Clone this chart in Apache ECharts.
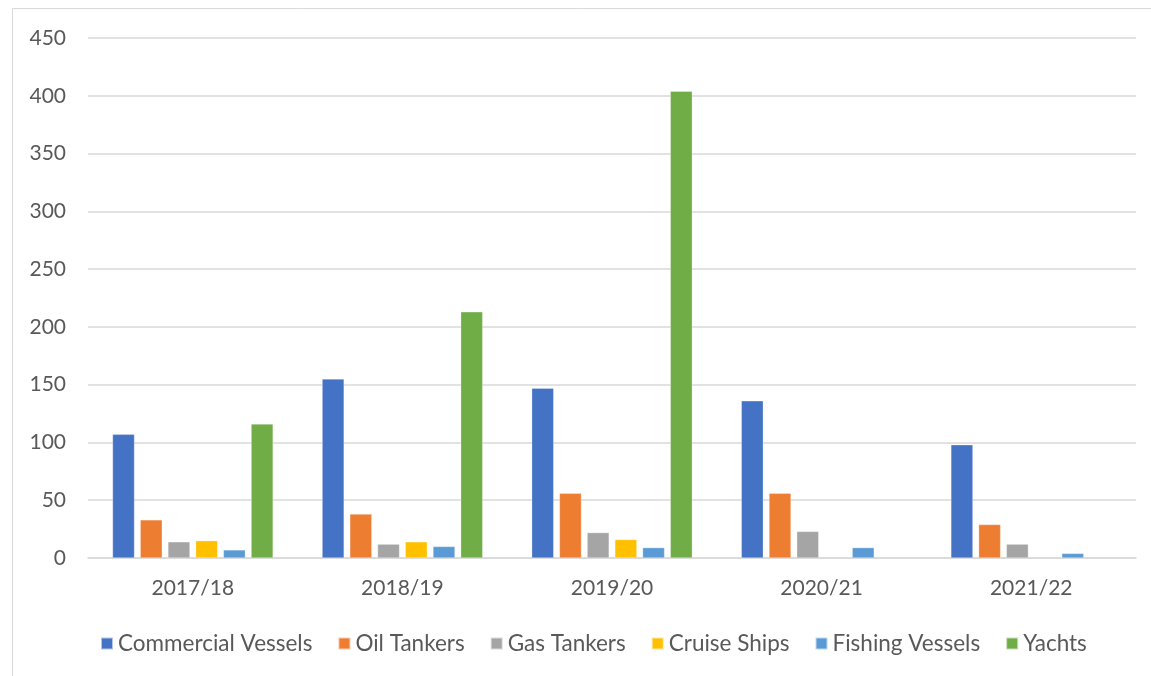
<!DOCTYPE html>
<html>
<head>
<meta charset="utf-8">
<script src="https://cdn.jsdelivr.net/npm/echarts@6/dist/echarts.min.js"></script>
<style>
html,body{margin:0;padding:0;background:#fff;}
#chart{width:1151px;height:676px;}
</style>
</head>
<body>
<div id="chart"></div>
<script>
const categories = ['2017/18', '2018/19', '2019/20', '2020/21', '2021/22'];
const commercialVessels = [107, 155, 147, 136, 98];
const oilTankers = [33, 38, 56, 56, 29];
const gasTankers = [14, 12, 22, 23, 12];
const cruiseShips = [15, 14, 16, null, null];
const fishingVessels = [7, 10, 9, 9, 4];
const yachts = [116, 213, 404, null, null];
const seriesNames = ['Commercial Vessels', 'Oil Tankers', 'Gas Tankers', 'Cruise Ships', 'Fishing Vessels', 'Yachts'];
const seriesData = [commercialVessels, oilTankers, gasTankers, cruiseShips, fishingVessels, yachts];
const colors = ['#4472C4', '#ED7D31', '#A5A5A5', '#FFC000', '#5B9BD5', '#70AD47'];

const FONT = 'Lato, "Noto Sans", sans-serif';
const chart = echarts.init(document.getElementById('chart'), null, {renderer: 'canvas'});
chart.setOption({
  animation: false,
  color: colors,
  textStyle: {fontFamily: FONT},
  graphic: [{
    type: 'rect',
    shape: {x: 12.5, y: 8.5, width: 1300, height: 800},
    style: {fill: 'none', stroke: '#D9D9D9', lineWidth: 1},
    silent: true
  }],
  grid: {left: 88, right: 15, top: 38, bottom: 118, containLabel: false},
  legend: {
    data: seriesNames,
    left: 95,
    top: 627,
    itemWidth: 12,
    itemHeight: 12,
    itemGap: 25,
    icon: 'rect',
    textStyle: {color: '#595959', fontSize: 22.5, fontFamily: FONT}
  },
  xAxis: {
    type: 'category',
    data: categories,
    axisLine: {show: true, lineStyle: {color: '#D9D9D9', width: 1.5}},
    axisTick: {show: false},
    axisLabel: {color: '#595959', fontSize: 21, margin: 20, fontFamily: FONT}
  },
  yAxis: {
    type: 'value',
    min: 0,
    max: 450,
    interval: 50,
    axisLine: {show: false},
    axisTick: {show: false},
    splitLine: {lineStyle: {color: '#D9D9D9', width: 1.5}},
    axisLabel: {color: '#595959', fontSize: 21, margin: 22, fontFamily: FONT}
  },
  series: seriesNames.map((name, i) => ({
    name: name,
    type: 'bar',
    data: seriesData[i],
    barWidth: 22,
    barGap: '26%',
    itemStyle: {color: colors[i], borderColor: 'rgba(255,255,255,0.6)', borderWidth: 0.5}
  }))
});
</script>
</body>
</html>
